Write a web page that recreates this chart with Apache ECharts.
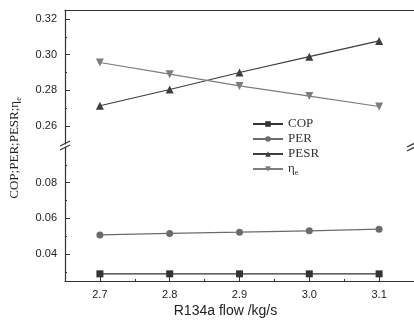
<!DOCTYPE html>
<html>
<head>
<meta charset="utf-8">
<script src="https://cdn.jsdelivr.net/npm/echarts@6/dist/echarts.min.js"></script>
<style>
  html, body { margin: 0; padding: 0; background: #fff; }
  #chart { width: 414px; height: 322px; }
</style>
</head>
<body>
<div id="chart"></div>
<script>
// R134a flow (kg/s)
const flow = [2.7, 2.8, 2.9, 3.0, 3.1];
const cop = [0.029, 0.029, 0.029, 0.029, 0.029];
const per = [0.0508, 0.0516, 0.0523, 0.0531, 0.054];
const pesr = [0.2714, 0.2805, 0.2900, 0.2989, 0.3077];
const etaE = [0.2956, 0.2891, 0.2825, 0.2768, 0.2710];

const upperTicks = [0.26, 0.28, 0.30, 0.32];
const upperMinor = [0.27, 0.29, 0.31];
const lowerTicks = [0.04, 0.06, 0.08];
const lowerMinor = [0.03, 0.05, 0.07, 0.09];
const xMinor = [2.75, 2.85, 2.95, 3.05];

const SANS = "Liberation Sans";
const SERIF = "Liberation Serif";
const AX = "#333";

const pairs = (ys) => flow.map((x, i) => [x, ys[i]]);

const chart = echarts.init(document.getElementById("chart"));

const yMain = (grid, min, max, ticks) => ({
  type: "value", gridIndex: grid, min, max, position: "left",
  axisLine: { show: true, lineStyle: { color: AX, width: 1.2 } },
  axisTick: { show: true, inside: true, length: 5, customValues: ticks, lineStyle: { color: AX } },
  axisLabel: { customValues: ticks, color: "#222", fontFamily: SANS, fontSize: 11, margin: 8,
    formatter: (v) => v.toFixed(2) },
  splitLine: { show: false },
});
const yMinor = (grid, min, max, ticks) => ({
  type: "value", gridIndex: grid, min, max, position: "left",
  axisLine: { show: false },
  axisTick: { show: true, inside: true, length: 2, customValues: ticks, lineStyle: { color: AX } },
  axisLabel: { show: false },
  splitLine: { show: false },
});

const slash = (x1, y1, x2, y2) => ({
  type: "line", shape: { x1, y1, x2, y2 },
  style: { stroke: AX, lineWidth: 1.2 }, z: 100,
});

chart.setOption({
  animation: false,
  backgroundColor: "#fff",
  grid: [
    { left: 65, right: -2, top: 10, height: 134 },
    { left: 65, right: -2, top: 147, height: 134 },
  ],
  legend: {
    orient: "vertical", left: 247, top: 112,
    itemWidth: 30, itemHeight: 7, itemGap: 1,
    data: ["COP", "PER", "PESR", "ηe"],
    textStyle: {
      fontFamily: SERIF, fontSize: 13, color: "#333", lineHeight: 14,
      rich: {
        n: { fontFamily: SERIF, fontSize: 13, color: "#333" },
        s: { fontFamily: SERIF, fontSize: 8, color: "#333", padding: [7, 0, 0, 0] },
      },
    },
    formatter: (name) => (name === "ηe" ? "{n|η}{s|e}" : name),
  },
  xAxis: [
    {
      type: "value", gridIndex: 0, min: 2.65, max: 3.15, position: "top",
      axisLine: { show: true, lineStyle: { color: AX, width: 1.2 } },
      axisTick: { show: false }, axisLabel: { show: false }, splitLine: { show: false },
    },
    {
      type: "value", gridIndex: 1, min: 2.65, max: 3.15, position: "bottom",
      name: "R134a flow /kg/s", nameLocation: "middle", nameGap: 23,
      nameTextStyle: { fontFamily: SANS, fontSize: 14, color: "#222", padding: [0, 28, 0, 0] },
      axisLine: { show: true, lineStyle: { color: AX, width: 1.2 } },
      axisTick: { show: true, inside: true, length: 6, customValues: flow, lineStyle: { color: AX } },
      axisLabel: { customValues: flow, color: "#222", fontFamily: SANS, fontSize: 11, margin: 8,
        formatter: (v) => v.toFixed(1) },
      splitLine: { show: false },
    },
    {
      type: "value", gridIndex: 1, min: 2.65, max: 3.15, position: "bottom",
      axisLine: { show: false },
      axisTick: { show: true, inside: true, length: 2, customValues: xMinor, lineStyle: { color: AX } },
      axisLabel: { show: false }, splitLine: { show: false },
    },
  ],
  yAxis: [
    yMain(0, 0.25, 0.325, upperTicks),
    yMinor(0, 0.25, 0.325, upperMinor),
    yMain(1, 0.025, 0.10, lowerTicks),
    yMinor(1, 0.025, 0.10, lowerMinor),
  ],
  series: [
    {
      name: "COP", type: "line", xAxisIndex: 1, yAxisIndex: 2, data: pairs(cop),
      symbol: "rect", symbolSize: 7,
      lineStyle: { color: "#333", width: 1.2 }, itemStyle: { color: "#333" },
    },
    {
      name: "PER", type: "line", xAxisIndex: 1, yAxisIndex: 2, data: pairs(per),
      symbol: "circle", symbolSize: 7,
      lineStyle: { color: "#6b6b6b", width: 1.2 }, itemStyle: { color: "#6b6b6b" },
    },
    {
      name: "PESR", type: "line", xAxisIndex: 0, yAxisIndex: 0, data: pairs(pesr),
      symbol: "triangle", symbolSize: 8,
      lineStyle: { color: "#3d3d3d", width: 1.2 }, itemStyle: { color: "#3d3d3d" },
    },
    {
      name: "ηe", type: "line", xAxisIndex: 0, yAxisIndex: 0, data: pairs(etaE),
      symbol: "triangle", symbolRotate: 180, symbolSize: 8,
      lineStyle: { color: "#7c7c7c", width: 1.2 }, itemStyle: { color: "#7c7c7c" },
    },
  ],
  graphic: [
    // axis title (shared by both panels)
    {
      type: "text", x: 15, y: 148, rotation: Math.PI / 2,
      style: {
        text: "{n|COP;PER;PESR;η}{s|e}",
        align: "center", verticalAlign: "middle",
        rich: {
          n: { fontFamily: SERIF, fontSize: 13, fill: "#222" },
          s: { fontFamily: SERIF, fontSize: 8, fill: "#222", padding: [7, 0, 0, 0] },
        },
      },
    },
    // break marks
    slash(60, 146, 70, 141),
    slash(60, 150, 70, 145),
    slash(407, 147, 415, 143),
    slash(407, 151, 415, 147),
  ],
});
</script>
</body>
</html>
